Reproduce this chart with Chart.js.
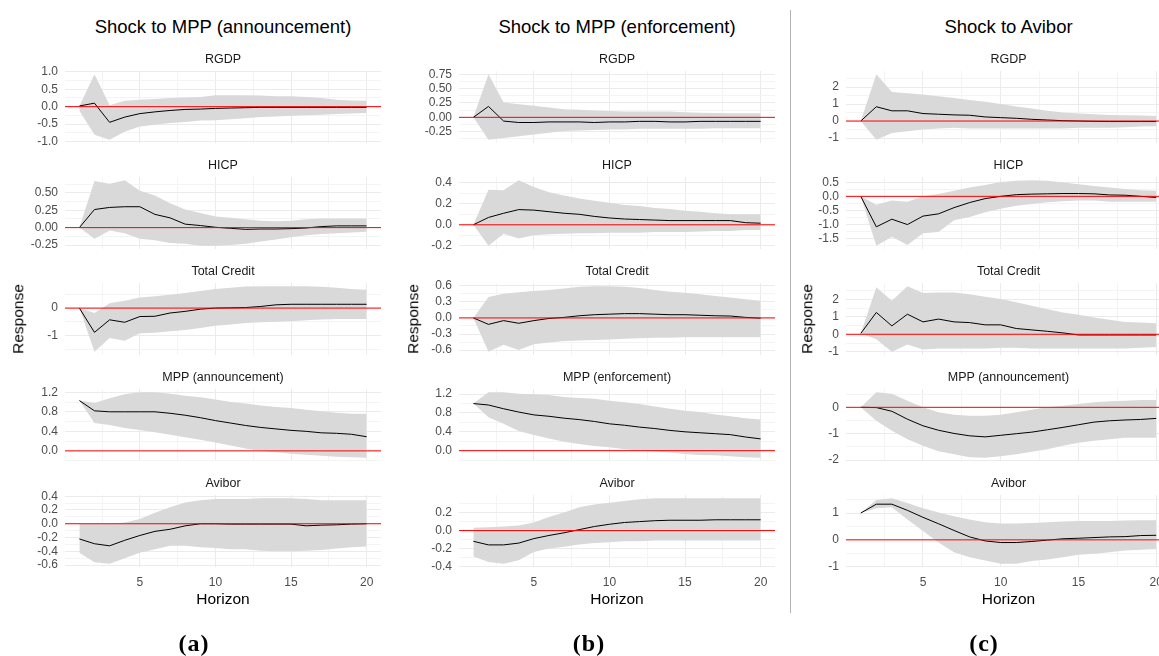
<!DOCTYPE html>
<html>
<head>
<meta charset="utf-8">
<script src="https://cdn.jsdelivr.net/npm/chart.js@4.4.1/dist/chart.umd.min.js"></script>
<style>
  html, body { margin: 0; padding: 0; background: #fff; overflow: hidden; }
  body { width: 1159px; height: 656px; position: relative; font-family: "Liberation Sans", Arial, sans-serif; }
  canvas { position: absolute; }
  .t { position: absolute; transform: translate(-50%, -50%); white-space: nowrap; line-height: 1; }
  .coltitle { font-size: 18.5px; color: #000; }
  .strip { font-size: 12.5px; color: #1a1a1a; }
  .axtitle { font-size: 15.5px; color: #000; }
  .sub { font-family: "Liberation Serif", "Times New Roman", serif; font-weight: bold; font-size: 24px; letter-spacing: 1px; color: #000; }
  .sep { position: absolute; left: 790px; top: 10px; width: 1px; height: 603px; background: #b4b4b4; z-index: 5; }
</style>
</head>
<body>
<div class="sep"></div>
<script>
// horizonte
const horizon = [1, 2, 3, 4, 5, 6, 7, 8, 9, 10, 11, 12, 13, 14, 15, 16, 17, 18, 19, 20];

const shockTitles = ['Shock to MPP (announcement)', 'Shock to MPP (enforcement)', 'Shock to Avibor'];
const subLabels = ['(a)', '(b)', '(c)'];
const varNames = [
  ['RGDP', 'HICP', 'Total Credit', 'MPP (announcement)', 'Avibor'],
  ['RGDP', 'HICP', 'Total Credit', 'MPP (enforcement)', 'Avibor'],
  ['RGDP', 'HICP', 'Total Credit', 'MPP (announcement)', 'Avibor']
];

// (a) choque MPP anuncio
const aRgdp     = [0.02, 0.10, -0.45, -0.30, -0.20, -0.15, -0.11, -0.08, -0.07, -0.05, -0.04, -0.03, -0.02, -0.02, -0.02, -0.02, -0.02, -0.02, -0.02, -0.02];
const aRgdpLo   = [-0.12, -0.81, -0.95, -0.72, -0.57, -0.52, -0.47, -0.44, -0.40, -0.39, -0.36, -0.33, -0.30, -0.28, -0.26, -0.25, -0.23, -0.21, -0.20, -0.18];
const aRgdpHi   = [0.02, 0.93, 0.04, 0.17, 0.20, 0.22, 0.25, 0.26, 0.28, 0.33, 0.33, 0.33, 0.32, 0.30, 0.30, 0.28, 0.25, 0.20, 0.18, 0.17];
const aHicp     = [0.00, 0.26, 0.29, 0.30, 0.30, 0.19, 0.14, 0.05, 0.03, 0.005, -0.01, -0.025, -0.02, -0.02, -0.015, -0.005, 0.015, 0.025, 0.025, 0.025];
const aHicpLo   = [0.00, -0.16, -0.04, -0.08, -0.16, -0.18, -0.22, -0.23, -0.26, -0.26, -0.25, -0.23, -0.20, -0.17, -0.14, -0.11, -0.09, -0.08, -0.07, -0.06];
const aHicpHi   = [0.00, 0.67, 0.63, 0.68, 0.53, 0.46, 0.35, 0.26, 0.21, 0.16, 0.14, 0.12, 0.10, 0.09, 0.10, 0.12, 0.13, 0.13, 0.13, 0.13];
const aCredit   = [0.00, -0.89, -0.43, -0.52, -0.31, -0.30, -0.18, -0.12, -0.04, 0.00, 0.01, 0.02, 0.06, 0.12, 0.14, 0.14, 0.14, 0.14, 0.14, 0.14];
const aCreditLo = [0.00, -1.60, -1.10, -1.20, -0.92, -0.90, -0.85, -0.80, -0.73, -0.65, -0.60, -0.55, -0.52, -0.50, -0.48, -0.45, -0.42, -0.40, -0.40, -0.40];
const aCreditHi = [0.00, -0.18, 0.18, 0.27, 0.39, 0.43, 0.49, 0.55, 0.63, 0.70, 0.75, 0.79, 0.80, 0.80, 0.80, 0.80, 0.78, 0.75, 0.70, 0.67];
const aMpp      = [1.03, 0.82, 0.80, 0.80, 0.80, 0.80, 0.77, 0.73, 0.68, 0.62, 0.57, 0.52, 0.48, 0.45, 0.42, 0.40, 0.37, 0.36, 0.34, 0.29];
const aMppLo    = [1.03, 0.57, 0.53, 0.47, 0.43, 0.38, 0.33, 0.28, 0.23, 0.17, 0.11, 0.05, 0.00, -0.03, -0.06, -0.08, -0.10, -0.12, -0.13, -0.14];
const aMppHi    = [1.03, 0.98, 1.08, 1.16, 1.20, 1.20, 1.17, 1.13, 1.10, 1.05, 1.00, 0.97, 0.93, 0.90, 0.88, 0.84, 0.81, 0.78, 0.76, 0.76];
const aAvibor   = [-0.22, -0.29, -0.32, -0.24, -0.17, -0.11, -0.08, -0.03, 0.00, 0.00, -0.005, -0.005, -0.005, -0.005, -0.005, -0.03, -0.02, -0.015, -0.005, 0.00];
const aAviborLo = [-0.42, -0.56, -0.58, -0.50, -0.42, -0.37, -0.32, -0.32, -0.34, -0.35, -0.37, -0.37, -0.39, -0.40, -0.40, -0.39, -0.38, -0.36, -0.34, -0.33];
const aAviborHi = [0.00, 0.00, 0.00, 0.02, 0.07, 0.16, 0.24, 0.31, 0.34, 0.36, 0.36, 0.36, 0.37, 0.37, 0.37, 0.36, 0.34, 0.34, 0.34, 0.34];

// (b) choque MPP enforcement
const bRgdp     = [0.00, 0.19, -0.065, -0.09, -0.09, -0.08, -0.08, -0.08, -0.09, -0.08, -0.08, -0.07, -0.07, -0.08, -0.08, -0.07, -0.07, -0.07, -0.07, -0.07];
const bRgdpLo   = [0.00, -0.39, -0.36, -0.33, -0.30, -0.27, -0.24, -0.23, -0.22, -0.21, -0.21, -0.20, -0.20, -0.20, -0.20, -0.20, -0.19, -0.19, -0.19, -0.19];
const bRgdpHi   = [0.00, 0.75, 0.26, 0.23, 0.20, 0.17, 0.14, 0.13, 0.12, 0.11, 0.10, 0.10, 0.10, 0.10, 0.09, 0.08, 0.075, 0.07, 0.07, 0.07];
const bHicp     = [0.00, 0.07, 0.11, 0.145, 0.14, 0.125, 0.11, 0.10, 0.08, 0.065, 0.055, 0.05, 0.045, 0.04, 0.04, 0.04, 0.04, 0.04, 0.02, 0.015];
const bHicpLo   = [0.00, -0.20, -0.085, -0.13, -0.10, -0.09, -0.085, -0.08, -0.08, -0.075, -0.075, -0.075, -0.07, -0.07, -0.07, -0.065, -0.06, -0.06, -0.05, -0.05];
const bHicpHi   = [0.00, 0.335, 0.33, 0.425, 0.36, 0.31, 0.28, 0.25, 0.23, 0.21, 0.19, 0.18, 0.16, 0.15, 0.135, 0.125, 0.11, 0.10, 0.10, 0.10];
const bCredit   = [0.00, -0.12, -0.05, -0.10, -0.05, -0.01, 0.01, 0.04, 0.06, 0.07, 0.08, 0.08, 0.07, 0.06, 0.06, 0.05, 0.04, 0.035, 0.01, -0.005];
const bCreditLo = [0.00, -0.63, -0.50, -0.60, -0.49, -0.46, -0.43, -0.42, -0.41, -0.40, -0.39, -0.38, -0.37, -0.37, -0.36, -0.36, -0.36, -0.36, -0.36, -0.36];
const bCreditHi = [0.00, 0.39, 0.45, 0.48, 0.50, 0.52, 0.55, 0.58, 0.59, 0.59, 0.58, 0.56, 0.52, 0.49, 0.47, 0.44, 0.41, 0.38, 0.35, 0.32];
const bMpp      = [1.00, 0.97, 0.89, 0.82, 0.76, 0.73, 0.69, 0.66, 0.62, 0.57, 0.54, 0.50, 0.47, 0.43, 0.40, 0.38, 0.36, 0.34, 0.29, 0.25];
const bMppLo    = [1.00, 0.71, 0.57, 0.42, 0.33, 0.26, 0.19, 0.14, 0.10, 0.07, 0.03, 0.00, -0.02, -0.04, -0.07, -0.09, -0.10, -0.12, -0.14, -0.15];
const bMppHi    = [1.00, 1.24, 1.24, 1.21, 1.20, 1.18, 1.14, 1.12, 1.10, 1.06, 1.03, 0.99, 0.94, 0.89, 0.85, 0.82, 0.77, 0.73, 0.69, 0.66];
const bAvibor   = [-0.12, -0.16, -0.16, -0.14, -0.09, -0.055, -0.025, 0.01, 0.045, 0.07, 0.09, 0.10, 0.11, 0.115, 0.115, 0.115, 0.12, 0.12, 0.12, 0.12];
const bAviborLo = [-0.29, -0.35, -0.37, -0.33, -0.24, -0.20, -0.18, -0.155, -0.14, -0.13, -0.12, -0.12, -0.11, -0.11, -0.11, -0.11, -0.11, -0.11, -0.11, -0.11];
const bAviborHi = [0.03, 0.037, 0.045, 0.055, 0.09, 0.15, 0.20, 0.26, 0.29, 0.31, 0.33, 0.35, 0.36, 0.36, 0.36, 0.36, 0.36, 0.36, 0.36, 0.36];

// (c) choque Avibor
const cRgdp     = [0.00, 0.84, 0.60, 0.60, 0.44, 0.40, 0.36, 0.34, 0.24, 0.20, 0.16, 0.10, 0.06, 0.02, 0.00, -0.02, -0.03, -0.03, -0.03, -0.03];
const cRgdpLo   = [0.00, -1.10, -0.70, -0.60, -0.50, -0.44, -0.40, -0.44, -0.44, -0.44, -0.44, -0.44, -0.44, -0.44, -0.40, -0.40, -0.40, -0.36, -0.32, -0.30];
const cRgdpHi   = [0.00, 2.75, 1.70, 1.64, 1.56, 1.46, 1.36, 1.24, 1.14, 1.00, 0.86, 0.74, 0.60, 0.50, 0.44, 0.40, 0.36, 0.34, 0.32, 0.30];
const cHicp     = [0.00, -1.08, -0.81, -1.00, -0.70, -0.62, -0.40, -0.22, -0.08, 0.00, 0.06, 0.08, 0.09, 0.10, 0.10, 0.09, 0.05, 0.04, 0.00, -0.04];
const cHicpLo   = [0.00, -1.75, -1.43, -1.72, -1.31, -1.26, -0.85, -0.73, -0.56, -0.44, -0.33, -0.27, -0.21, -0.17, -0.15, -0.15, -0.19, -0.19, -0.19, -0.19];
const cHicpHi   = [0.00, -0.30, -0.15, -0.19, 0.00, 0.08, 0.20, 0.31, 0.40, 0.51, 0.55, 0.57, 0.55, 0.49, 0.43, 0.37, 0.31, 0.26, 0.22, 0.20];
const cCredit   = [0.05, 1.25, 0.48, 1.15, 0.71, 0.87, 0.71, 0.67, 0.54, 0.54, 0.33, 0.25, 0.17, 0.08, -0.04, -0.04, -0.04, -0.04, -0.04, -0.04];
const cCreditLo = [0.05, -0.29, -1.00, -0.58, -0.87, -0.81, -0.81, -0.81, -0.81, -0.77, -0.77, -0.81, -0.81, -0.81, -0.81, -0.81, -0.81, -0.81, -0.77, -0.73];
const cCreditHi = [0.05, 2.70, 1.92, 2.75, 2.37, 2.40, 2.40, 2.30, 2.15, 2.02, 1.83, 1.63, 1.44, 1.25, 1.12, 0.96, 0.83, 0.71, 0.67, 0.63];
const cMpp      = [0.00, -0.01, -0.15, -0.45, -0.70, -0.87, -0.99, -1.08, -1.12, -1.06, -1.00, -0.94, -0.85, -0.76, -0.66, -0.56, -0.51, -0.48, -0.46, -0.42];
const cMppLo    = [0.00, -0.51, -0.89, -1.21, -1.46, -1.66, -1.78, -1.89, -1.91, -1.85, -1.78, -1.68, -1.59, -1.46, -1.34, -1.27, -1.21, -1.15, -1.15, -1.15];
const cMppHi    = [0.00, 0.57, 0.51, 0.25, 0.00, -0.19, -0.28, -0.32, -0.32, -0.28, -0.19, -0.09, 0.00, 0.06, 0.13, 0.19, 0.23, 0.25, 0.28, 0.28];
const cAvibor   = [1.00, 1.33, 1.33, 1.10, 0.84, 0.60, 0.35, 0.11, -0.04, -0.10, -0.10, -0.06, -0.01, 0.04, 0.06, 0.085, 0.11, 0.12, 0.16, 0.17];
const cAviborLo = [1.00, 1.18, 1.22, 0.76, 0.33, -0.10, -0.46, -0.65, -0.77, -0.89, -0.89, -0.79, -0.73, -0.65, -0.56, -0.52, -0.46, -0.40, -0.37, -0.34];
const cAviborHi = [1.00, 1.49, 1.55, 1.37, 1.18, 1.02, 0.88, 0.76, 0.66, 0.61, 0.61, 0.63, 0.66, 0.68, 0.70, 0.70, 0.70, 0.72, 0.73, 0.73];

// passo dos ticks do eixo y e casas decimais (por painel)
const yStep = [
  [0.5, 0.25, 1, 0.4, 0.2],
  [0.25, 0.2, 0.3, 0.4, 0.2],
  [1, 0.5, 1, 1, 1]
];
const yDec = [
  [1, 2, 0, 1, 1],
  [2, 1, 1, 1, 1],
  [0, 1, 0, 0, 0]
];

const series = [
  [[aRgdp, aRgdpLo, aRgdpHi], [aHicp, aHicpLo, aHicpHi], [aCredit, aCreditLo, aCreditHi], [aMpp, aMppLo, aMppHi], [aAvibor, aAviborLo, aAviborHi]],
  [[bRgdp, bRgdpLo, bRgdpHi], [bHicp, bHicpLo, bHicpHi], [bCredit, bCreditLo, bCreditHi], [bMpp, bMppLo, bMppHi], [bAvibor, bAviborLo, bAviborHi]],
  [[cRgdp, cRgdpLo, cRgdpHi], [cHicp, cHicpLo, cHicpHi], [cCredit, cCreditLo, cCreditHi], [cMpp, cMppLo, cMppHi], [cAvibor, cAviborLo, cAviborHi]]
];

// layout (px)
const colPlotLeft = [65, 459, 846];
const colPlotW = [316, 316, 325];
const rowTop = [71, 177, 283, 389, 495];
const plotH = 72, axisW = 60, xAxisH = 24, vPad = 10;
const fontFam = '"Liberation Sans", Arial, sans-serif';
const majorGrid = '#ebebeb', minorGrid = '#f4f4f4';

function gridTicks(min, max, step) {
  const out = [];
  for (let k = Math.ceil(min / step - 1e-9); k * step <= max + 1e-9; k++) out.push(+(k * step).toFixed(6));
  return out;
}
function isMajor(v, step) {
  const r = v / step;
  return Math.abs(r - Math.round(r)) < 1e-6;
}

function addText(cls, txt, x, y, extra) {
  const d = document.createElement('div');
  d.className = 't ' + cls;
  d.textContent = txt;
  d.style.left = x + 'px';
  d.style.top = y + 'px';
  if (extra) d.style.transform = extra;
  document.body.appendChild(d);
}

function makePanel(ci, ri) {
  const [mid, lo, hi] = series[ci][ri];
  const step = yStep[ci][ri], dec = yDec[ci][ri];
  const bottom = ri === 4;

  const cv = document.createElement('canvas');
  const w = axisW + colPlotW[ci];
  const h = plotH + 2 * vPad + (bottom ? xAxisH : 0);
  cv.width = w; cv.height = h;
  cv.style.width = w + 'px'; cv.style.height = h + 'px';
  cv.style.left = (colPlotLeft[ci] - axisW) + 'px';
  cv.style.top = (rowTop[ri] - vPad) + 'px';
  document.body.appendChild(cv);

  // limites como no ggplot (expansão de 5%)
  const all = lo.concat(hi, mid, [0]);
  const yLo = Math.min(...all), yHi = Math.max(...all);
  const yMin = yLo - (yHi - yLo) * 0.05, yMax = yHi + (yHi - yLo) * 0.05;
  const hx0 = horizon[0], hx1 = horizon[horizon.length - 1];
  const xMin = hx0 - (hx1 - hx0) * 0.05, xMax = hx1 + (hx1 - hx0) * 0.05;

  const pts = arr => horizon.map((hz, i) => ({ x: hz, y: arr[i] }));

  new Chart(cv, {
    type: 'line',
    data: {
      datasets: [
        { data: [{ x: xMin, y: 0 }, { x: xMax, y: 0 }], borderColor: '#ff0000', borderWidth: 1, pointRadius: 0, fill: false },
        { data: pts(mid), borderColor: '#000000', borderWidth: 1, pointRadius: 0, fill: false },
        { data: pts(hi), borderColor: 'rgba(0,0,0,0)', borderWidth: 0, pointRadius: 0, backgroundColor: '#d9d9d9', fill: '+1' },
        { data: pts(lo), borderColor: 'rgba(0,0,0,0)', borderWidth: 0, pointRadius: 0, fill: false }
      ]
    },
    options: {
      responsive: false,
      animation: false,
      events: [],
      layout: { autoPadding: false, padding: { top: vPad, bottom: vPad, left: 0, right: 0 } },
      elements: { line: { tension: 0 } },
      plugins: { legend: { display: false }, tooltip: { enabled: false } },
      scales: {
        x: {
          type: 'linear', min: xMin, max: xMax,
          afterBuildTicks: sc => { sc.ticks = gridTicks(xMin, xMax, 2.5).map(v => ({ value: v })); },
          grid: { drawTicks: false, lineWidth: 1, color: c => isMajor(c.tick.value, 5) ? majorGrid : minorGrid },
          border: { display: false },
          ticks: {
            display: bottom, autoSkip: false, maxRotation: 0, padding: 8,
            color: '#4d4d4d', font: { family: fontFam, size: 12 },
            callback: v => isMajor(v, 5) ? String(v) : ''
          },
          afterFit: sc => { sc.height = bottom ? xAxisH : 0; sc.paddingLeft = 0; sc.paddingRight = 0; }
        },
        y: {
          type: 'linear', min: yMin, max: yMax,
          afterBuildTicks: sc => { sc.ticks = gridTicks(yMin, yMax, step / 2).map(v => ({ value: v })); },
          grid: { drawTicks: false, lineWidth: 1, color: c => isMajor(c.tick.value, step) ? majorGrid : minorGrid },
          border: { display: false },
          ticks: {
            autoSkip: false, padding: 7,
            color: '#4d4d4d', font: { family: fontFam, size: 12 },
            callback: v => isMajor(v, step) ? v.toFixed(dec) : ''
          },
          afterFit: sc => { sc.width = axisW; sc.paddingTop = 0; sc.paddingBottom = 0; }
        }
      }
    }
  });

  addText('strip', varNames[ci][ri], colPlotLeft[ci] + colPlotW[ci] / 2, rowTop[ri] - 12.5);
}

const responseX = [17.5, 412.5, 806.5];
const subX = [194, 589, 984];

for (let ci = 0; ci < 3; ci++) {
  const cx = colPlotLeft[ci] + colPlotW[ci] / 2;
  addText('coltitle', shockTitles[ci], cx, 27);
  for (let ri = 0; ri < 5; ri++) makePanel(ci, ri);
  addText('axtitle', 'Response', responseX[ci], 319, 'translate(-50%,-50%) rotate(-90deg)');
  addText('axtitle', 'Horizon', cx, 599);
  addText('sub', subLabels[ci], subX[ci], 643);
}
</script>
</body>
</html>
